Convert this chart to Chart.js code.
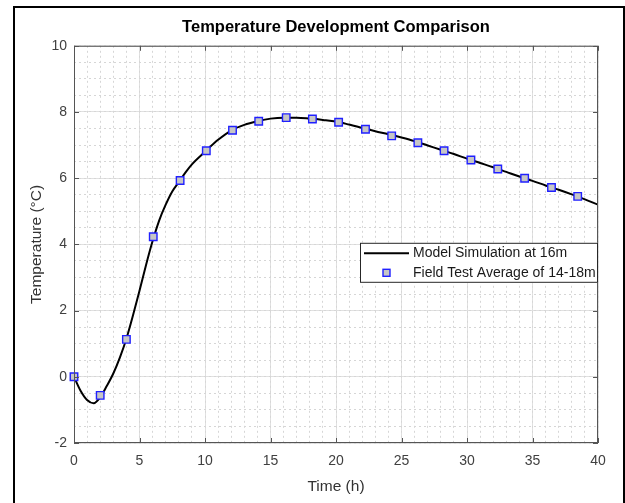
<!DOCTYPE html>
<html>
<head>
<meta charset="utf-8">
<script src="https://cdn.jsdelivr.net/npm/chart.js@4.4.1/dist/chart.umd.min.js"></script>
<style>
  body { margin: 0; background: #fff; }
  #wrap { position: relative; width: 625px; height: 503px; }
  #frame { position: absolute; left: 13px; top: 6px; width: 608px; height: 510px;
           border: 2px solid #000; border-bottom: none; pointer-events: none; }
</style>
</head>
<body>
<div id="wrap">
  <canvas id="tempChart"></canvas>
  <div id="frame"></div>
</div>
<script>
// model simulation at 16 m
const modelTime = [0, 0.5, 1, 1.5, 2, 2.5, 3, 3.5, 4, 4.5, 5, 5.5, 6, 6.5, 7, 7.5, 8, 8.5, 9, 10,
    11, 12, 13, 14, 15, 16, 17, 18, 19, 20, 21, 22, 23, 24, 25, 26, 27, 28, 29, 30,
    31, 32, 33, 34, 35, 36, 37, 38, 39, 40];
const modelTemp = [0, -0.42, -0.7, -0.8, -0.62, -0.28, 0.1, 0.58, 1.15, 1.85, 2.6, 3.38, 4.1, 4.72, 5.2, 5.6, 5.88, 6.17, 6.42, 6.8,
    7.16, 7.44, 7.61, 7.72, 7.8, 7.83, 7.83, 7.8, 7.76, 7.71, 7.62, 7.52, 7.42, 7.33, 7.23, 7.12, 6.99, 6.86, 6.73, 6.59,
    6.46, 6.33, 6.19, 6.05, 5.92, 5.78, 5.65, 5.51, 5.36, 5.2];

// field test average of 14-18 m
const fieldTime = [0, 2.0, 4.0, 6.05, 8.1, 10.1, 12.1, 14.1, 16.2, 18.2, 20.2, 22.25, 24.25, 26.25, 28.25, 30.3, 32.35, 34.4, 36.45, 38.45];
const fieldTemp = [0, -0.56, 1.13, 4.23, 5.93, 6.83, 7.45, 7.72, 7.83, 7.79, 7.69, 7.48, 7.28, 7.07, 6.83, 6.55, 6.28, 6.0, 5.72, 5.45];

const FONT = "'Liberation Sans', Arial, Helvetica, sans-serif";

// inner box with inward ticks, like the original figure
const axesBox = {
    id: 'axesBox',
    afterDatasetsDraw(chart) {
        const { ctx, chartArea: a, scales: { x, y } } = chart;
        ctx.save();
        ctx.strokeStyle = '#555';
        ctx.lineWidth = 1;
        ctx.strokeRect(a.left + 0.5, a.top + 0.5, a.width - 1, a.height - 1);
        ctx.beginPath();
        x.ticks.forEach(t => {
            const px = Math.round(x.getPixelForValue(t.value)) + 0.5;
            ctx.moveTo(px, a.bottom); ctx.lineTo(px, a.bottom - 5);
            ctx.moveTo(px, a.top); ctx.lineTo(px, a.top + 5);
        });
        y.ticks.forEach(t => {
            const py = Math.round(y.getPixelForValue(t.value)) + 0.5;
            ctx.moveTo(a.left, py); ctx.lineTo(a.left + 5, py);
            ctx.moveTo(a.right, py); ctx.lineTo(a.right - 5, py);
        });
        ctx.stroke();
        ctx.restore();
    }
};

// legend box inside the plot, right side
const boxLegend = {
    id: 'boxLegend',
    afterDraw(chart) {
        const { ctx, chartArea: a } = chart;
        const [pts, line] = chart.data.datasets;
        const w = 238, h = 40;
        const x0 = a.right - w, y0 = a.top + 197;
        ctx.save();
        ctx.fillStyle = '#fff';
        ctx.fillRect(x0, y0, w, h);
        ctx.strokeStyle = '#262626';
        ctx.lineWidth = 1;
        ctx.strokeRect(x0 + 0.5, y0 + 0.5, w - 1, h - 1);

        ctx.strokeStyle = line.borderColor;
        ctx.lineWidth = line.borderWidth;
        ctx.beginPath();
        ctx.moveTo(x0 + 4, y0 + 10.5);
        ctx.lineTo(x0 + 49, y0 + 10.5);
        ctx.stroke();

        const s = 7;
        ctx.fillStyle = pts.backgroundColor;
        ctx.strokeStyle = pts.borderColor;
        ctx.lineWidth = pts.borderWidth;
        ctx.fillRect(x0 + 26.5 - s / 2, y0 + 30 - s / 2, s, s);
        ctx.strokeRect(x0 + 26.5 - s / 2, y0 + 30 - s / 2, s, s);

        ctx.fillStyle = '#1a1a1a';
        ctx.font = '14px ' + FONT;
        ctx.textBaseline = 'middle';
        ctx.fillText(line.label, x0 + 53, y0 + 10.5);
        ctx.fillText(pts.label, x0 + 53, y0 + 30);
        ctx.restore();
    }
};

const ctx = document.getElementById('tempChart').getContext('2d');
new Chart(ctx, {
    type: 'scatter',
    data: {
        datasets: [
            {
                label: 'Field Test Average of 14-18m',
                data: fieldTime.map((t, i) => ({ x: t, y: fieldTemp[i] })),
                pointStyle: 'rect',
                pointRadius: 5.3,
                backgroundColor: '#c6c6c6',
                borderColor: '#2020ff',
                borderWidth: 1.4,
                clip: false,
                order: 1
            },
            {
                type: 'line',
                label: 'Model Simulation at 16m',
                data: modelTime.map((t, i) => ({ x: t, y: modelTemp[i] })),
                borderColor: '#000',
                borderWidth: 2,
                pointRadius: 0,
                cubicInterpolationMode: 'monotone',
                fill: false,
                order: 2
            }
        ]
    },
    options: {
        responsive: true,
        maintainAspectRatio: false,
        animation: false,
        layout: { padding: { left: 0, right: 27, top: 0, bottom: 0 } },
        plugins: {
            legend: { display: false },
            tooltip: { enabled: false },
            title: {
                display: true,
                fullSize: false,
                text: 'Temperature Development Comparison',
                color: '#000',
                font: { family: FONT, size: 16.5, weight: 'bold' },
                padding: { top: 18, bottom: 8 }
            }
        },
        scales: {
            x: {
                type: 'linear',
                position: 'bottom',
                min: 0,
                max: 40,
                ticks: { stepSize: 5, color: '#404040', padding: 10, font: { family: FONT, size: 14 } },
                grid: { color: '#e0e0e0', drawTicks: false },
                border: { display: false },
                title: {
                    display: true,
                    text: 'Time (h)',
                    color: '#333',
                    font: { family: FONT, size: 15.5 },
                    padding: { top: 0, bottom: 7 }
                },
                afterFit: s => { s.height = 60; }
            },
            y: {
                min: -2,
                max: 10,
                ticks: { stepSize: 2, color: '#404040', padding: 7, font: { family: FONT, size: 14 } },
                grid: { color: '#e0e0e0', drawTicks: false },
                border: { display: false },
                title: {
                    display: true,
                    text: 'Temperature (°C)',
                    color: '#333',
                    font: { family: FONT, size: 15.5 },
                    padding: { top: 27, bottom: 0 }
                },
                afterFit: s => { s.width = 74; }
            },
            xMinor: {
                type: 'linear',
                display: true,
                position: 'bottom',
                min: 0,
                max: 40,
                ticks: { stepSize: 1, display: false },
                grid: { color: '#d6d6d6', drawTicks: false, z: -1 },
                border: { display: false, dash: [2, 3] },
                afterFit: s => { s.height = 0; }
            },
            yMinor: {
                type: 'linear',
                display: true,
                position: 'left',
                min: -2,
                max: 10,
                ticks: { stepSize: 0.5, display: false },
                grid: { color: '#d6d6d6', drawTicks: false, z: -1 },
                border: { display: false, dash: [2, 3] },
                afterFit: s => { s.width = 0; }
            }
        }
    },
    plugins: [axesBox, boxLegend]
});
</script>
</body>
</html>
